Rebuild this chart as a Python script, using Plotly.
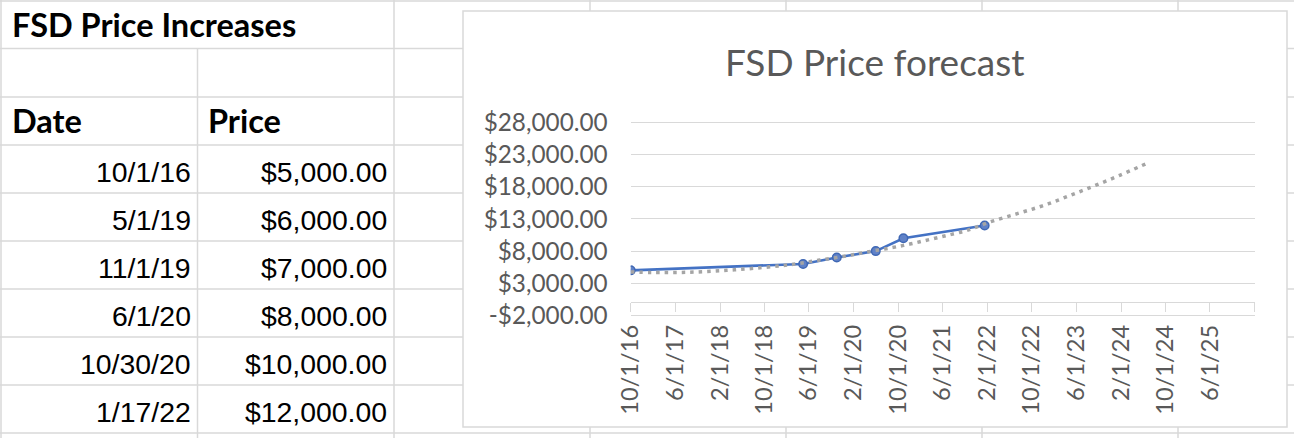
import plotly.graph_objects as go
import pandas as pd

# ---------------- data ----------------
dates = ["2016-10-01", "2019-05-01", "2019-11-01", "2020-06-01", "2020-10-30", "2022-01-17"]
prices = [5000, 6000, 7000, 8000, 10000, 12000]

# dotted trend / forecast line
trend_dates = ["2016-10-01", "2017-01-24", "2017-08-12", "2018-03-10", "2018-09-25", "2019-03-08",
               "2019-07-31", "2019-12-24", "2020-04-02", "2020-08-31", "2020-12-04", "2021-03-14",
               "2021-06-19", "2021-09-21", "2021-11-15", "2022-02-05", "2022-07-10", "2022-11-29",
               "2023-04-18", "2023-09-07", "2024-01-25", "2024-06-16"]
trend_values = [4750, 4660, 4700, 5000, 5450, 5950,
                6600, 7250, 7800, 8550, 9100, 9750,
                10400, 11050, 11550, 12450, 13800, 15050,
                16550, 18150, 19800, 21600]

x_tick_dates = ["2016-10-01", "2017-06-01", "2018-02-01", "2018-10-01", "2019-06-01", "2020-02-01",
                "2020-10-01", "2021-06-01", "2022-02-01", "2022-10-01", "2023-06-01", "2024-02-01",
                "2024-10-01", "2025-06-01"]
x_axis_end = "2026-02-01"
y_tick_values = [-2000, 3000, 8000, 13000, 18000, 23000, 28000]

sheet_title = "FSD Price Increases"
chart_title = "FSD Price forecast"
col_headers = ["Date", "Price"]


def mdy(s):
    d = pd.Timestamp(s)
    return f"{d.month}/{d.day}/{d.year % 100:02d}"


def money(v):
    return ("-" if v < 0 else "") + f"${abs(v):,.2f}"


# ---------------- layout helpers (pixel -> paper) ----------------
W, H = 1294, 438


def px(x):
    return x / W


def py(y):
    return 1 - y / H


GRID = "#d9d9d9"
TXT = "#595959"

fig = go.Figure()

fig.add_trace(go.Scatter(
    x=dates, y=prices, mode="lines+markers",
    line=dict(color="#4472c4", width=2.6),
    marker=dict(symbol="circle", size=8.5, color="#6082c8", line=dict(color="#4068b4", width=1.5)),
    showlegend=False, hoverinfo="x+y"))

fig.add_trace(go.Scatter(
    x=trend_dates, y=trend_values, mode="lines",
    line=dict(color="#a5a5a5", width=3.5, dash="3.5px,5px", shape="spline"),
    showlegend=False, hoverinfo="skip"))

shapes = []
# spreadsheet grid
row_y = [1, 48.5, 97, 145, 193, 241, 289, 337, 385, 433]
col_x = [1, 197.5, 394, 590, 786, 982, 1178]
for y in row_y:
    shapes.append(dict(type="line", xref="paper", yref="paper", x0=0, x1=1, y0=py(y), y1=py(y),
                       line=dict(color=GRID, width=1.5), layer="below"))
for x in col_x:
    top = 48.5 if x == 197.5 else 0
    shapes.append(dict(type="line", xref="paper", yref="paper", x0=px(x), x1=px(x), y0=py(top), y1=0,
                       line=dict(color=GRID, width=1.5), layer="below"))
# chart box
shapes.append(dict(type="rect", xref="paper", yref="paper", x0=px(463), x1=px(1287), y0=py(427), y1=py(11),
                   line=dict(color=GRID, width=1.5), fillcolor="white", layer="below"))

annotations = []
BOLD = dict(family="Lato", size=32.5, color="black", weight=700)
CELL = dict(family="Liberation Sans, Arial", size=28.4, color="black")
annotations.append(dict(text=f"<b>{sheet_title}</b>", x=px(10), y=py(24.5), xref="paper", yref="paper",
                        xanchor="left", yanchor="middle", showarrow=False, font=BOLD))
annotations.append(dict(text=f"<b>{col_headers[0]}</b>", x=px(10), y=py(120.5), xref="paper", yref="paper",
                        xanchor="left", yanchor="middle", showarrow=False, font=BOLD))
annotations.append(dict(text=f"<b>{col_headers[1]}</b>", x=px(206), y=py(120.5), xref="paper", yref="paper",
                        xanchor="left", yanchor="middle", showarrow=False, font=BOLD))
for i, (d, p) in enumerate(zip(dates, prices)):
    yc = 172.2 + 48.05 * i
    annotations.append(dict(text=mdy(d), x=px(192.5), y=py(yc), xref="paper", yref="paper",
                            xanchor="right", yanchor="middle", showarrow=False, font=CELL))
    annotations.append(dict(text=money(p), x=px(388.5), y=py(yc), xref="paper", yref="paper",
                            xanchor="right", yanchor="middle", showarrow=False, font=CELL))
# chart title
annotations.append(dict(text=chart_title, x=px(874), y=py(61.5), xref="paper", yref="paper",
                        xanchor="center", yanchor="middle", showarrow=False,
                        font=dict(family="Lato", size=37, color=TXT)))

# axis geometry: 28000 at y=122.7px, -2000 at y=315.3px
ppu = (315.3 - 122.7) / 30000.0
pad = 200
y_lo, y_hi = -2000 - pad, 28000 + pad
dom_bottom_px = 315.3 + pad * ppu
dom_top_px = 122.7 - pad * ppu
zero_px = 315.3 - 2000 * ppu

fig.update_layout(
    width=W, height=H, autosize=False,
    margin=dict(l=0, r=0, t=0, b=0, pad=0, autoexpand=False),
    paper_bgcolor="white", plot_bgcolor="rgba(0,0,0,0)",
    shapes=shapes, annotations=annotations,
    xaxis=dict(
        type="date", domain=[px(630.7), px(1254.8)], range=[x_tick_dates[0], x_axis_end],
        anchor="free", position=py(zero_px), automargin=False,
        tickmode="array", tickvals=x_tick_dates + [x_axis_end],
        ticktext=[mdy(d) for d in x_tick_dates] + [""],
        tickangle=-90, ticks="outside", ticklen=9, tickwidth=1, tickcolor=GRID,
        showline=True, linecolor=GRID, linewidth=1, showgrid=False, zeroline=False,
        tickfont=dict(family="Lato", size=23.6, color=TXT), ticklabelstandoff=3,
        fixedrange=True),
    yaxis=dict(
        domain=[py(dom_bottom_px), py(dom_top_px)], range=[y_lo, y_hi], automargin=False,
        tickmode="array", tickvals=y_tick_values, ticktext=[money(v) for v in y_tick_values],
        showgrid=True, gridcolor=GRID, gridwidth=1, zeroline=False, showline=False,
        ticks="", tickfont=dict(family="Lato", size=24.3, color=TXT), ticklabelstandoff=22,
        fixedrange=True),
)

fig.write_html("out.html")
